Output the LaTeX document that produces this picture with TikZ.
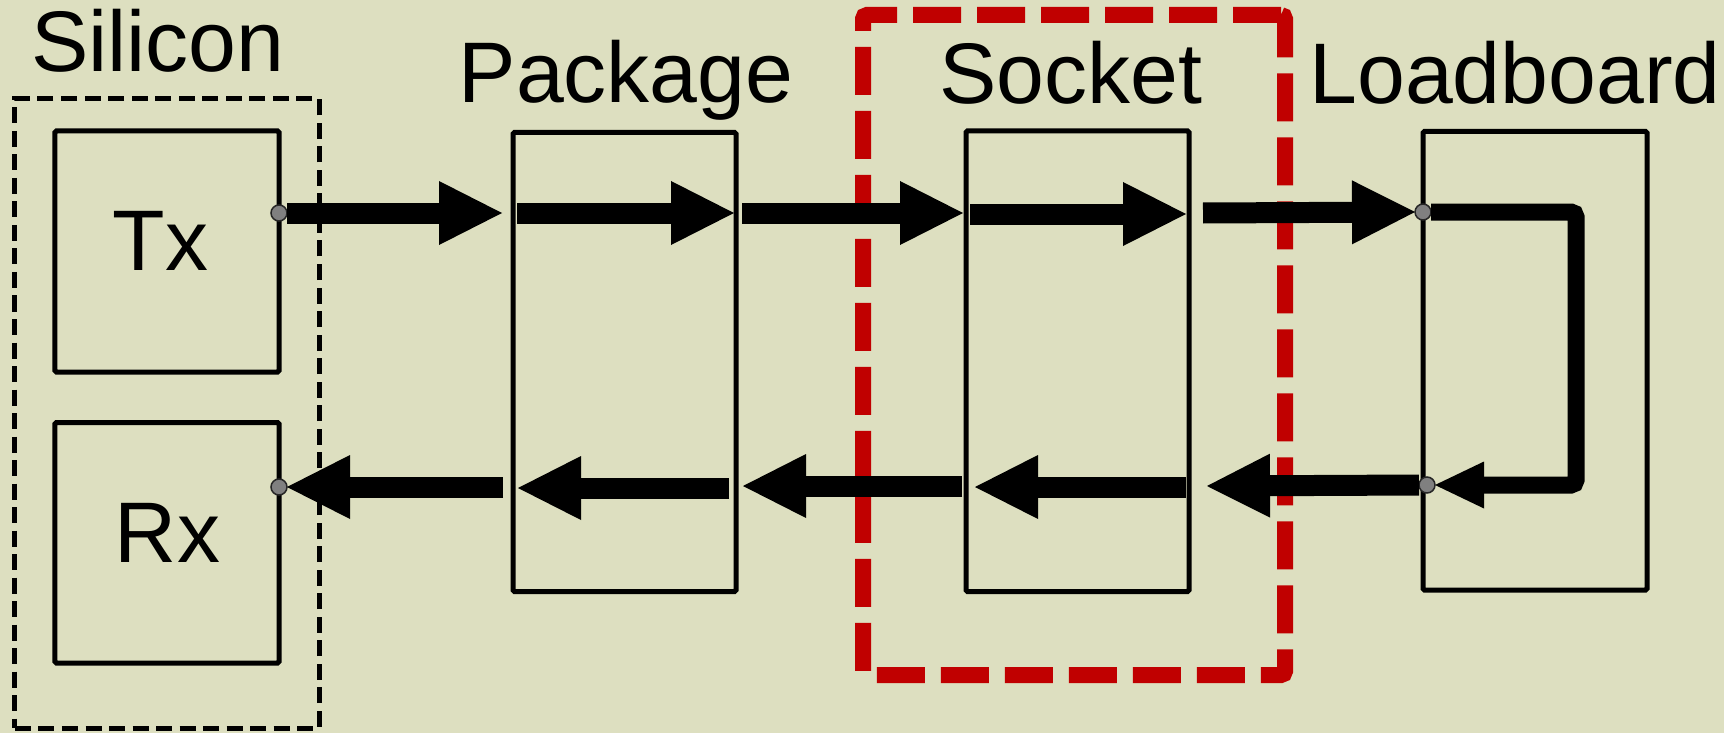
\documentclass[tikz,border=0pt]{standalone}
\usepackage{fontspec}
\setmainfont{Liberation Sans}
\usetikzlibrary{arrows.meta}
\definecolor{bg}{RGB}{221,223,192}
\definecolor{socketred}{RGB}{192,0,0}
\definecolor{pingray}{RGB}{128,128,128}
\tikzset{
  block/.style={draw=black, line width=5bp, rectangle, inner sep=0pt, outer sep=0pt, rounded corners=1.5bp},
  zone/.style={rectangle, inner sep=0pt, outer sep=0pt},
  title/.style={font=\fontsize{86bp}{90bp}\selectfont, inner sep=0pt, anchor=base},
  flow/.style={line width=21bp, -{Triangle[length=63bp,width=64bp,line width=0pt]}},
  loopback/.style={line width=17bp, rounded corners=5bp, -{Triangle[length=49bp,width=47bp,line width=0pt]}},
  pinmark/.style={circle, fill=pingray, draw=black!85, line width=1.5bp, minimum size=16bp, inner sep=0pt, outer sep=0pt},
}
\begin{document}
\begin{tikzpicture}[x=1bp,y=-1bp]
\useasboundingbox (0,0) rectangle (1724,733);
\fill[bg] (0,0) rectangle (1724,733);

% group outlines
\node[zone, draw=black, line width=5bp, dash pattern=on 16bp off 7.5bp,
      minimum width=304bp, minimum height=629bp] (silzone) at (167,413.5) {};
\node[zone, draw=socketred, line width=16bp, dash pattern=on 48bp off 16bp, rounded corners=4bp,
      minimum width=422bp, minimum height=660bp] (socketzone) at (1074,345) {};

% blocks
\node[block, minimum width=224bp, minimum height=241bp] (tx) at (167,251.5) {};
\node[block, minimum width=224bp, minimum height=240.5bp] (rx) at (167,542.75) {};
\node[block, minimum width=223bp, minimum height=459bp] (pkg) at (624.5,362) {};
\node[block, minimum width=223bp, minimum height=460.5bp] (sock) at (1077.5,361.25) {};
\node[block, minimum width=224bp, minimum height=458.5bp] (lb) at (1535,360.75) {};

% titles
\node[title] (siltitle) at (158,72) {Silicon};
\node[title] (pkgtitle) at (626,103) {Package};
\node[title] (socktitle) at (1071,104) {Socket};
\node[title] (lbtitle) at (1515,104) {Loadboard};
\node[title] (txtitle) at (160.5,270) {Tx};
\node[title] (rxtitle) at (167.5,562) {Rx};

% pins
\node[pinmark] (txpin) at (279,213) {};
\node[pinmark] (rxpin) at (279,487) {};
\node[pinmark] (lbin) at (1423,212) {};
\node[pinmark] (lbout) at (1427,485) {};

% arrow ends inside and between the blocks
\coordinate (a1) at (502,213);
\coordinate (a2s) at (517,213);
\coordinate (a2e) at (734,213);
\coordinate (a3s) at (742,213);
\coordinate (a3e) at (963,213);
\coordinate (a4s) at (970,214);
\coordinate (a4e) at (1186,214);
\coordinate (a5s) at (1203,213);
\coordinate (lpa) at (1576,212);
\coordinate (lpb) at (1576,485);
\coordinate (b1) at (1207,486);
\coordinate (b2s) at (1186,487);
\coordinate (b2e) at (975,487);
\coordinate (b3s) at (962,486);
\coordinate (b3e) at (743,486);
\coordinate (b4s) at (729,488);
\coordinate (b4e) at (518,488);
\coordinate (b5s) at (503,487);

% transmit path
\draw[flow] (txpin.east) -- (a1);
\draw[flow] (a2s) -- (a2e);
\draw[flow] (a3s) -- (a3e);
\draw[flow] (a4s) -- (a4e);
\draw[flow] (a5s) -- (lbin.west);

% loopback on the load board
\draw[loopback] (lbin.east) -- (lpa) -- (lpb) -- (lbout.east);

% receive path
\draw[flow] (lbout.west) -- (b1);
\draw[flow] (b2s) -- (b2e);
\draw[flow] (b3s) -- (b3e);
\draw[flow] (b4s) -- (b4e);
\draw[flow] (b5s) -- (rxpin.east);
\end{tikzpicture}
\end{document}
